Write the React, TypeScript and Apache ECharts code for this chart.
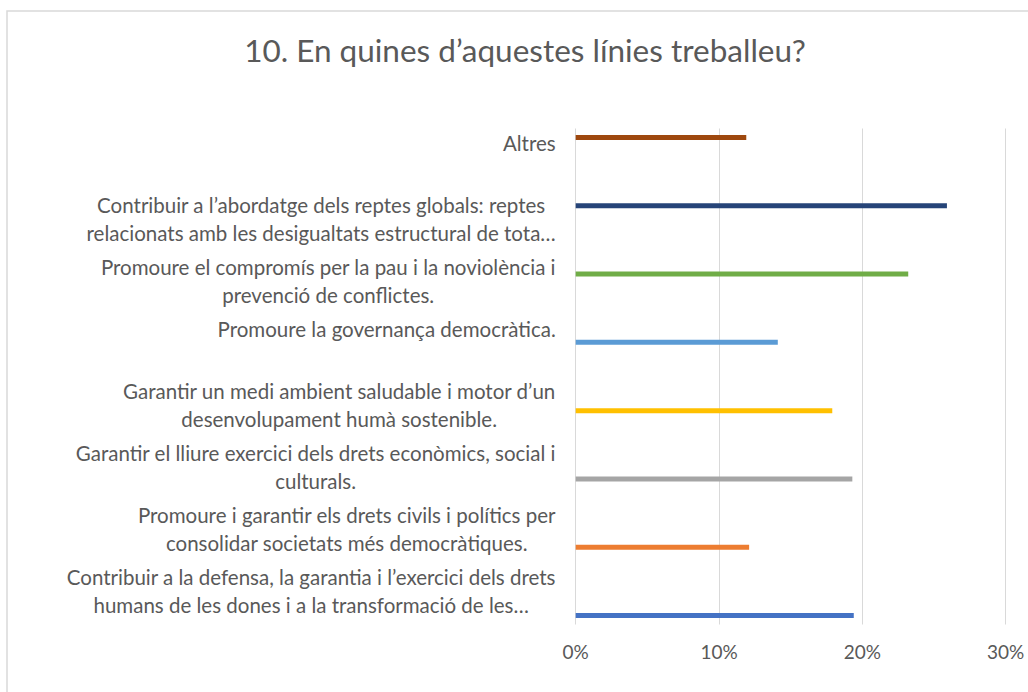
import React, { useEffect, useRef } from "react";
import * as echarts from "echarts";

// Categories from bottom to top (as drawn on the axis)
const categories: string[] = [
  "Contribuir a la defensa, la garantia i l’exercici dels drets\nhumans de les dones i a la transformació de les…",
  "Promoure i garantir els drets civils i polítics per\nconsolidar societats més democràtiques.",
  "Garantir el lliure exercici dels drets econòmics, social i\nculturals.",
  "Garantir un medi ambient saludable i motor d’un\ndesenvolupament humà sostenible.",
  "Promoure la governança democràtica.",
  "Promoure el compromís per la pau i la noviolència i\nprevenció de conflictes.",
  "Contribuir a l’abordatge dels reptes globals: reptes\nrelacionats amb les desigualtats estructural de tota…",
  "Altres",
];

// Percent values, same order as categories
const values: number[] = [19.4, 12.1, 19.3, 17.9, 14.1, 23.2, 25.9, 11.9];

const colors: string[] = [
  "#4472C4",
  "#ED7D31",
  "#A5A5A5",
  "#FFC000",
  "#5B9BD5",
  "#70AD47",
  "#264478",
  "#9E480E",
];

const xTicks: number[] = [0, 10, 20, 30];

const titleText = "10. En quines d’aquestes línies treballeu?";

export default function App() {
  const ref = useRef<HTMLDivElement>(null);

  useEffect(() => {
    document.body.style.margin = "0";
    if (!ref.current) return;
    const chart = echarts.init(ref.current, undefined, { renderer: "svg" });

    // One series per category; the top category gets the first (top) slot.
    const order = categories.map((_, i) => i).reverse();
    const series = order.map((ci) => ({
      type: "bar",
      name: categories[ci],
      barWidth: 5,
      barGap: "26%",
      itemStyle: { color: colors[ci] },
      data: categories.map((_, j) => (j === ci ? values[ci] : "-")),
    }));

    chart.setOption({
      animation: false,
      backgroundColor: "#ffffff",
      graphic: [
        {
          type: "rect",
          shape: { x: 7, y: 11, width: 1200, height: 900 },
          style: { fill: "none", stroke: "#D9D9D9", lineWidth: 1.5 },
          silent: true,
        },
        {
          type: "text",
          x: 525,
          y: 49.5,
          style: {
            text: titleText,
            fill: "#595959",
            font: "31.5px Lato",
            textAlign: "center",
            textVerticalAlign: "middle",
          },
        },
      ],
      grid: { left: 575.7, right: 22.3, top: 128.5, height: 496, containLabel: false },
      xAxis: {
        type: "value",
        min: xTicks[0],
        max: xTicks[xTicks.length - 1],
        interval: 10,
        axisLine: { show: false },
        axisTick: { show: false },
        splitLine: { show: true, lineStyle: { color: "#D9D9D9", width: 1 } },
        axisLabel: {
          formatter: "{value}%",
          color: "#595959",
          fontFamily: "Lato",
          fontSize: 19,
          margin: 17,
        },
      },
      yAxis: {
        type: "category",
        data: categories,
        axisLine: { show: false },
        axisTick: { show: false },
        axisLabel: {
          margin: 20,
          interval: 0,
          padding: [0, 0, 6, 0],
          formatter: (v: string) => {
            const lines = v.split("\n");
            if (lines.length === 1) lines.push(" ");
            return lines.map((l) => `{c|${l}}`).join("\n");
          },
          rich: {
            c: {
              align: "center",
              lineHeight: 28,
              fontSize: 20.5,
              fontFamily: "Lato",
              color: "#595959",
            },
          },
        },
      },
      series,
    });

    return () => chart.dispose();
  }, []);

  return <div ref={ref} style={{ width: 1028, height: 692 }} />;
}
